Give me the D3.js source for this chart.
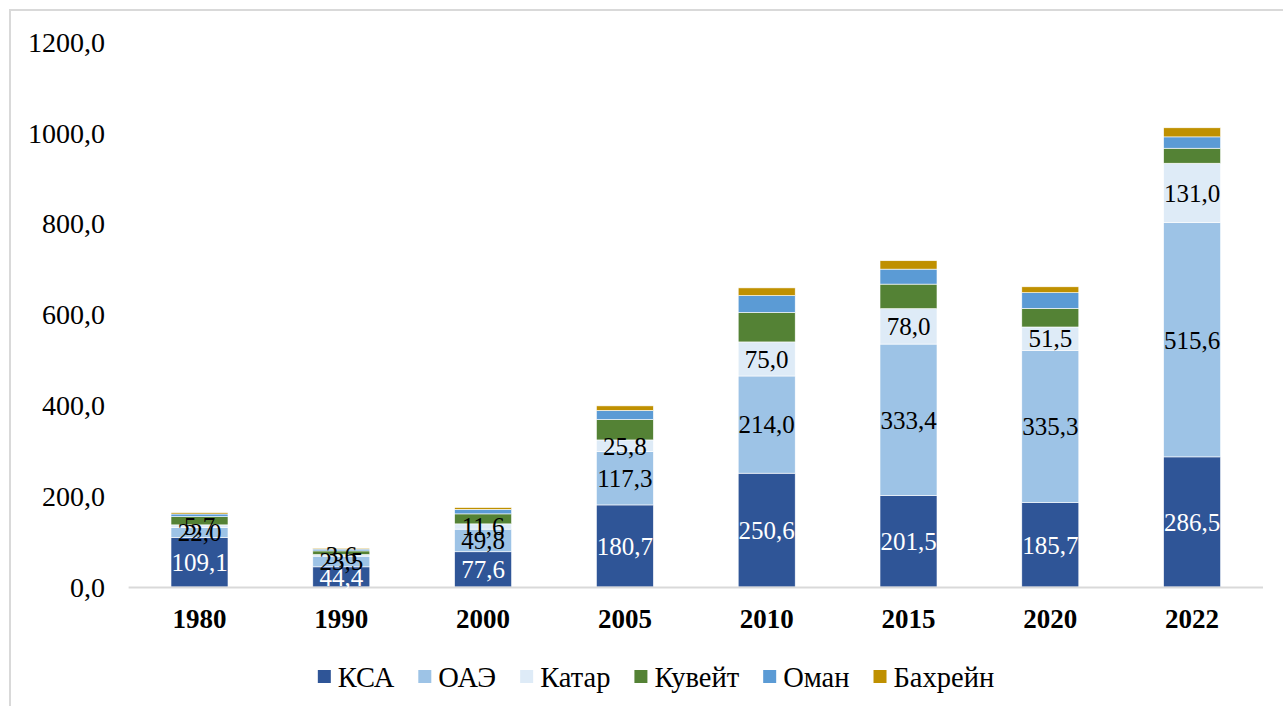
<!DOCTYPE html>
<html>
<head>
<meta charset="utf-8">
<script src="https://cdnjs.cloudflare.com/ajax/libs/d3/7.8.5/d3.min.js"></script>
<style>
  body { margin: 0; background: #fff; }
  svg { display: block; }
  svg text { font-family: "Times New Roman", "Liberation Serif", "DejaVu Serif", serif; }
</style>
</head>
<body>
<div id="chart"></div>
<script>
var years = ["1980", "1990", "2000", "2005", "2010", "2015", "2020", "2022"];
var seriesNames = ["КСА", "ОАЭ", "Катар", "Кувейт", "Оман", "Бахрейн"];
var seriesColors = ["#2F5597", "#9DC3E6", "#DEEBF7", "#548235", "#5B9BD5", "#BF9000"];
var ksa = [109.1, 44.4, 77.6, 180.7, 250.6, 201.5, 185.7, 286.5];
var oae = [22.0, 23.5, 49.8, 117.3, 214.0, 333.4, 335.3, 515.6];
var katar = [5.7, 3.6, 11.6, 25.8, 75.0, 78.0, 51.5, 131.0];
var kuveit = [18, 8, 22, 45, 65, 54, 41, 33];
var oman = [6, 4, 10, 20, 37, 33, 34.5, 25];
var bahrein = [3, 2, 4, 10, 17, 18.5, 13, 20];
var yTicks = [0, 200, 400, 600, 800, 1000, 1200];
// подписи только у первых трёх рядов
var labelled = [true, true, true, false, false, false];

var width = 1283;
var height = 706;
var x0 = 128.6, x1 = 1263;
var yBase = 587, yTop = 42;

var svg = d3.select('#chart')
    .append('svg')
    .attr('width', width)
    .attr('height', height);

// рамка
svg.append('rect')
    .attr('x', 10)
    .attr('y', 10)
    .attr('width', 1300)
    .attr('height', 720)
    .attr('fill', 'none')
    .attr('stroke', '#d9d9d9')
    .attr('stroke-width', 2);

var allSeries = [ksa, oae, katar, kuveit, oman, bahrein];
var table = years.map(function(y, i) {
    var row = { year: y };
    seriesNames.forEach(function(s, j) { row[s] = allSeries[j][i]; });
    return row;
});

var stacked = d3.stack().keys(seriesNames)(table);

var xscale = d3.scaleBand()
    .domain(years)
    .range([x0, x1])
    .paddingInner(0.598)
    .paddingOuter(0.299);

var yscale = d3.scaleLinear()
    .domain([0, 1200])
    .range([yBase, yTop]);

var fmt = function(v) { return d3.format('.1f')(v).replace('.', ','); };

// ось Y — только подписи
svg.append('g')
    .selectAll('text')
    .data(yTicks)
    .enter()
    .append('text')
    .attr('x', 105)
    .attr('y', d => yscale(d))
    .attr('dy', '0.35em')
    .attr('text-anchor', 'end')
    .style('font-size', '28px')
    .attr('fill', '#000')
    .text(d => fmt(d));

// столбцы
var groups = svg.append('g')
    .selectAll('g')
    .data(stacked)
    .enter()
    .append('g')
    .attr('fill', (d, i) => seriesColors[i]);

groups.selectAll('rect')
    .data(d => d)
    .enter()
    .append('rect')
    .attr('x', d => xscale(d.data.year))
    .attr('y', d => yscale(d[1]))
    .attr('width', xscale.bandwidth())
    .attr('height', d => yscale(d[0]) - yscale(d[1]))
    .attr('stroke', '#fff')
    .attr('stroke-width', 0.6);

// линия оси X
svg.append('line')
    .attr('x1', x0)
    .attr('x2', x1)
    .attr('y1', yscale(0) + 0.5)
    .attr('y2', yscale(0) + 0.5)
    .attr('stroke', '#d9d9d9')
    .attr('stroke-width', 2);

// подписи X
svg.append('g')
    .selectAll('text')
    .data(years)
    .enter()
    .append('text')
    .attr('x', d => xscale(d) + xscale.bandwidth() / 2)
    .attr('y', 628)
    .attr('text-anchor', 'middle')
    .style('font-size', '27px')
    .attr('font-weight', 700)
    .text(d => d);

// подписи данных
stacked.forEach(function(layer, i) {
    if (!labelled[i]) return;
    svg.append('g')
        .selectAll('text')
        .data(layer)
        .enter()
        .append('text')
        .attr('x', d => xscale(d.data.year) + xscale.bandwidth() / 2)
        .attr('y', d => (yscale(d[0]) + yscale(d[1])) / 2)
        .attr('dy', '0.35em')
        .attr('text-anchor', 'middle')
        .style('font-size', '25px')
        .attr('fill', i === 0 ? '#fff' : '#000')
        .text(d => fmt(d[1] - d[0]));
});

// легенда
var items = svg.append('g')
    .selectAll('g')
    .data(seriesNames)
    .enter()
    .append('g');
items.append('rect')
    .attr('width', 13)
    .attr('height', 13)
    .attr('y', 670)
    .attr('fill', (d, i) => seriesColors[i]);
items.append('text')
    .attr('x', 20)
    .attr('y', 687)
    .style('font-size', '28.5px')
    .text(d => d);

var pos = 0;
var offsets = [];
items.each(function() {
    var w = 20 + d3.select(this).select('text').node().getComputedTextLength();
    offsets.push(pos);
    pos += w + 24;
});
var total = pos - 24;
var startX = 656 - total / 2;
items.attr('transform', (d, i) => 'translate(' + (startX + offsets[i]) + ',0)');
</script>
</body>
</html>
